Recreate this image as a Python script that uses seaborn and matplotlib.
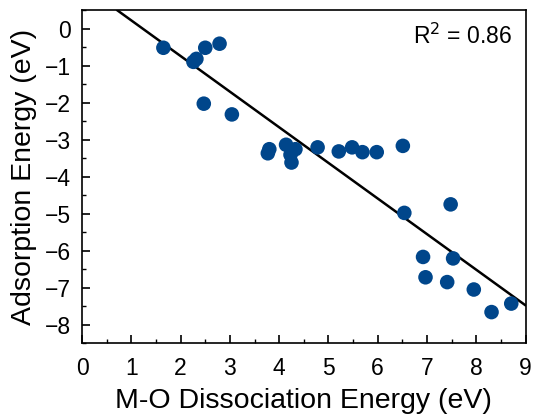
import numpy as np
import pandas as pd
import matplotlib
matplotlib.use("Agg")
import matplotlib.pyplot as plt
import seaborn as sns
from matplotlib.ticker import MultipleLocator

# Data
dissociation = [1.65, 2.50, 2.79, 2.26, 2.32, 2.47, 3.04, 3.77, 3.80,
                4.14, 4.33, 4.23, 4.25, 4.78, 5.21, 5.48, 5.69, 5.98,
                6.51, 6.54, 7.48, 6.92, 7.53, 6.97, 7.41, 7.95, 8.31, 8.71]
adsorption = [-0.52, -0.52, -0.41, -0.90, -0.82, -2.03, -2.32, -3.37, -3.26,
              -3.14, -3.26, -3.41, -3.62, -3.21, -3.32, -3.21, -3.34, -3.34,
              -3.17, -4.98, -4.75, -6.17, -6.21, -6.72, -6.85, -7.05, -7.66, -7.43]
# Fitted line as shown in the reference
fit_slope = -0.962
fit_intercept = 1.18
r2_label = "R$^2$ = 0.86"
x_ticks = list(range(0, 10))
y_ticks = list(range(-8, 1))

df = pd.DataFrame({"x": dissociation, "y": adsorption})

sns.set_theme(style="ticks")
plt.rcParams["font.family"] = ["Liberation Sans", "DejaVu Sans"]
plt.rcParams["text.color"] = "black"
plt.rcParams["axes.labelcolor"] = "black"

fig = plt.figure(figsize=(5.33, 4.17), dpi=100)
ax = fig.add_axes([0.154, 0.177, 0.832, 0.799])
ax.set_xlim(0, 9)
ax.set_ylim(-8.5, 0.5)

ax.axline((0, fit_intercept), slope=fit_slope, color="black", lw=1.8, zorder=2)
sns.scatterplot(data=df, x="x", y="y", ax=ax, s=110, color="#00468b",
                edgecolor="none", zorder=3)

ax.set_xlim(0, 9)
ax.set_ylim(-8.5, 0.5)
ax.set_xticks(x_ticks)
ax.set_yticks(y_ticks)
ax.xaxis.set_minor_locator(MultipleLocator(0.5))
ax.yaxis.set_minor_locator(MultipleLocator(0.5))
ax.tick_params(which="major", direction="in", length=6, width=1.2,
               labelsize=16.5, color="black", labelcolor="black")
ax.tick_params(axis="x", which="major", pad=10)
ax.tick_params(axis="y", which="major", pad=8)
ax.tick_params(which="minor", direction="in", length=3, width=1.0, color="black")
for s in ax.spines.values():
    s.set_linewidth(1.2)
    s.set_color("black")

ax.set_xlabel("M-O Dissociation Energy (eV)", fontsize=20.5, labelpad=6)
ax.set_ylabel("Adsorption Energy (eV)", fontsize=20.5, labelpad=6)
ax.text(0.97, 0.92, r2_label, transform=ax.transAxes, ha="right",
        va="center", fontsize=16.5)

fig.savefig("out.png", dpi=100)
